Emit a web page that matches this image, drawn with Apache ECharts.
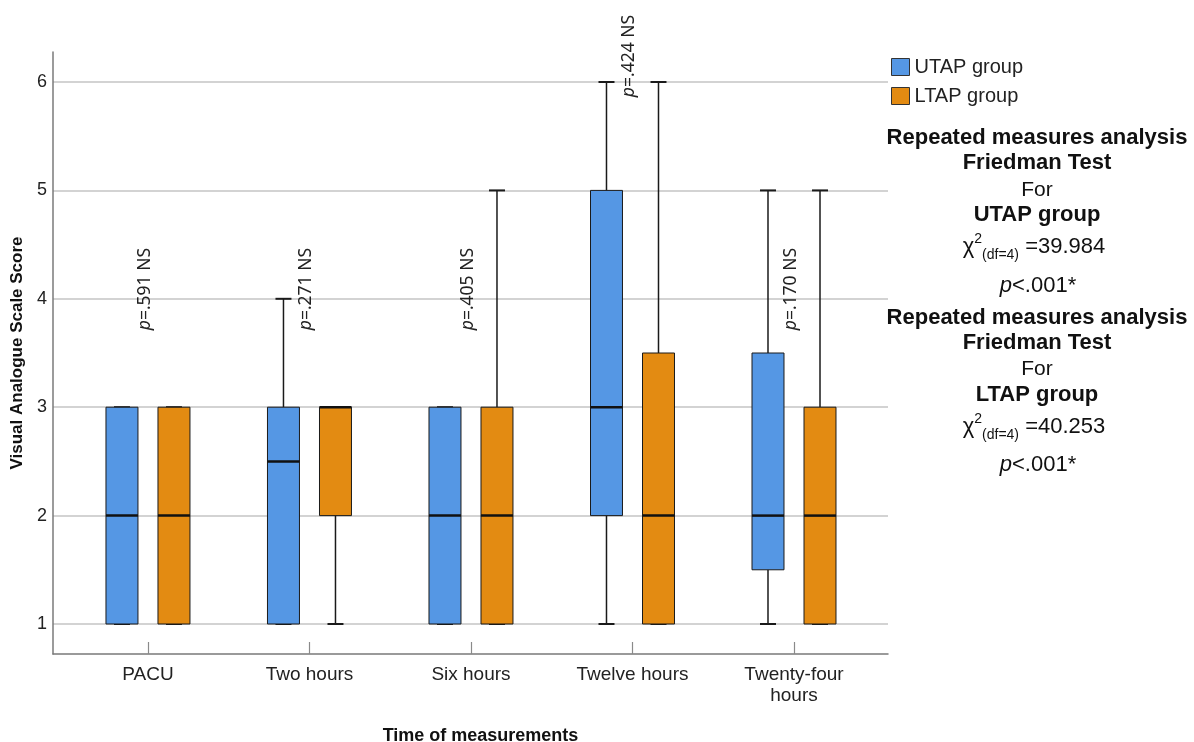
<!DOCTYPE html>
<html>
<head>
<meta charset="utf-8">
<script src="https://cdn.jsdelivr.net/npm/echarts@6/dist/echarts.min.js"></script>
<style>html,body{margin:0;padding:0;background:#fff;}#c{width:1194px;height:742px;}</style>
</head>
<body>
<div id="c"></div>
<script>
// ---- data ----
const categories = ['PACU', 'Two hours', 'Six hours', 'Twelve hours', 'Twenty-four\nhours'];
const groups = ['UTAP group', 'LTAP group'];
// [min, Q1, median, Q3, max]
const utap = [[1, 1, 2, 3, 3], [1, 1, 2.5, 3, 4], [1, 1, 2, 3, 3], [1, 2, 3, 5, 6], [1, 1.5, 2, 3.5, 5]];
const ltap = [[1, 1, 2, 3, 3], [1, 2, 3, 3, 3], [1, 1, 2, 3, 5], [1, 1, 2, 3.5, 6], [1, 1, 2, 3, 5]];
const yTicks = [1, 2, 3, 4, 5, 6];
const pLabels = ['=.591 NS', '=.271 NS', '=.405 NS', '=.424 NS', '=.170 NS'];
const pLabelY = [3.71, 3.71, 3.71, 5.86, 3.71];
const notes = [
  ['Repeated measures analysis', 'b', 138],
  ['Friedman Test', 'b', 163],
  ['For', 'n', 190],
  ['UTAP group', 'b', 215],
  ['39.984', 'c', 247],
  ['<.001*', 'p', 286],
  ['Repeated measures analysis', 'b', 318],
  ['Friedman Test', 'b', 343],
  ['For', 'n', 369],
  ['LTAP group', 'b', 395],
  ['40.253', 'c', 427],
  ['<.001*', 'p', 465]
];

const colors = ['#5597E4', '#E38B12'];
const offsets = [-0.161, 0.161];
const boxW = 0.198;
const FONT = 'Liberation Sans, Arial, sans-serif';

function makeBoxRender(offset) {
  return function (params, api) {
    const i = api.value(0);
    const xc = i + offset;
    const mn = api.coord([xc, api.value(1)]);
    const q1 = api.coord([xc, api.value(2)]);
    const md = api.coord([xc, api.value(3)]);
    const q3 = api.coord([xc, api.value(4)]);
    const mx = api.coord([xc, api.value(5)]);
    const hw = api.size([boxW, 0])[0] / 2;
    const cw = hw / 2;
    const cx = mn[0];
    const lineStyle = { stroke: '#1a1a1a', lineWidth: 1.5 };
    const children = [];
    children.push({ type: 'line', shape: { x1: cx, y1: q3[1], x2: cx, y2: mx[1] }, style: lineStyle });
    children.push({ type: 'line', shape: { x1: cx, y1: q1[1], x2: cx, y2: mn[1] }, style: lineStyle });
    children.push({ type: 'line', shape: { x1: cx - cw, y1: mx[1], x2: cx + cw, y2: mx[1] }, style: { stroke: '#1a1a1a', lineWidth: 2 } });
    children.push({ type: 'line', shape: { x1: cx - cw, y1: mn[1], x2: cx + cw, y2: mn[1] }, style: { stroke: '#1a1a1a', lineWidth: 2 } });
    children.push({
      type: 'rect',
      shape: { x: cx - hw, y: q3[1], width: hw * 2, height: q1[1] - q3[1] },
      style: { fill: api.visual('color'), stroke: '#1a1a1a', lineWidth: 1 }
    });
    children.push({ type: 'line', shape: { x1: cx - hw, y1: md[1], x2: cx + hw, y2: md[1] }, style: { stroke: '#111', lineWidth: 2.5 } });
    return { type: 'group', children: children };
  };
}

function toSeriesData(arr) {
  return arr.map((d, i) => [i].concat(d));
}

const chart = echarts.init(document.getElementById('c'), null, { renderer: 'canvas' });

const noteGraphics = notes.map(function (n) {
  const base = { fontFamily: FONT, fontSize: 21, fill: '#111', align: 'center', verticalAlign: 'middle' };
  if (n[1] === 'b') {
    return { type: 'text', x: 1037, y: n[2], style: Object.assign({}, base, { text: n[0], fontWeight: 'bold', fontSize: 22 }) };
  } else if (n[1] === 'n') {
    return { type: 'text', x: 1037, y: n[2], style: Object.assign({}, base, { text: n[0] }) };
  } else if (n[1] === 'c') {
    return {
      type: 'text', x: 1034, y: n[2],
      style: Object.assign({}, base, {
        text: '{m|χ}{sup|2}{sub|(df=4)}{m| =' + n[0] + '}',
        rich: {
          m: { fontFamily: FONT, fontSize: 22, lineHeight: 30, verticalAlign: 'middle', fill: '#111' },
          sup: { fontFamily: FONT, fontSize: 14, lineHeight: 15, verticalAlign: 'top', fill: '#111' },
          sub: { fontFamily: FONT, fontSize: 14, lineHeight: 14, verticalAlign: 'bottom', fill: '#111' }
        }
      })
    };
  } else {
    return {
      type: 'text', x: 1038, y: n[2],
      style: Object.assign({}, base, {
        text: '{i|p}{m|' + n[0] + '}',
        rich: {
          i: { fontFamily: FONT, fontSize: 22, fontStyle: 'italic', fill: '#111' },
          m: { fontFamily: FONT, fontSize: 22, fill: '#111' }
        }
      })
    };
  }
});

const option = {
  backgroundColor: '#fff',
  animation: false,
  grid: { left: 53, right: 306, top: 52, bottom: 88, containLabel: false, outerBoundsMode: 'none' },
  legend: {
    data: groups,
    orient: 'vertical',
    left: 891, top: 57,
    padding: 0,
    icon: 'rect',
    itemWidth: 18, itemHeight: 17, itemGap: 9,
    itemStyle: { borderColor: '#333', borderWidth: 1 },
    textStyle: { fontFamily: FONT, fontSize: 20, color: '#222' }
  },
  xAxis: {
    type: 'value',
    min: -0.588, max: 4.582,
    splitLine: { show: false },
    axisLine: { show: true, onZero: false, lineStyle: { color: '#7a7a7a', width: 1.5 } },
    axisTick: { show: true, inside: true, length: 12, customValues: [0, 1, 2, 3, 4], lineStyle: { color: '#8a8a8a', width: 1.2 } },
    axisLabel: {
      customValues: [0, 1, 2, 3, 4],
      formatter: function (v) { return categories[Math.round(v)]; },
      fontFamily: FONT, fontSize: 19, color: '#222', margin: 10, lineHeight: 21
    },
    name: 'Time of measurements',
    nameLocation: 'middle', nameGap: 73,
    nameTextStyle: { fontFamily: FONT, fontSize: 18, fontWeight: 'bold', color: '#111', padding: [0, 0, 0, 20] }
  },
  yAxis: {
    type: 'value',
    min: 0.7232, max: 6.2768,
    axisLine: { show: true, onZero: false, lineStyle: { color: '#7a7a7a', width: 1.5 } },
    axisTick: { show: false, customValues: yTicks },
    axisLabel: { customValues: yTicks, fontFamily: FONT, fontSize: 18, color: '#222', margin: 6 },
    splitLine: { show: true, lineStyle: { color: '#c4c4c4', width: 1.5 } },
    name: 'Visual Analogue Scale Score',
    nameLocation: 'middle', nameGap: 27,
    nameTextStyle: { fontFamily: FONT, fontSize: 17, fontWeight: 'bold', color: '#111' }
  },
  series: [
    {
      name: groups[0], type: 'custom', itemStyle: { color: colors[0] },
      renderItem: makeBoxRender(offsets[0]),
      encode: { x: 0, y: [1, 2, 3, 4, 5] },
      data: toSeriesData(utap), z: 3
    },
    {
      name: groups[1], type: 'custom', itemStyle: { color: colors[1] },
      renderItem: makeBoxRender(offsets[1]),
      encode: { x: 0, y: [1, 2, 3, 4, 5] },
      data: toSeriesData(ltap), z: 3
    },
    {
      name: 'pvalues', type: 'custom',
      data: pLabelY.map((y, i) => [i, y]),
      encode: { x: 0, y: 1 },
      renderItem: function (params, api) {
        const p = api.coord([api.value(0), api.value(1)]);
        return {
          type: 'text', x: p[0] - 3, y: p[1], rotation: Math.PI / 2,
          style: {
            text: '{i|p}{n|' + pLabels[params.dataIndex] + '}',
            align: 'left', verticalAlign: 'middle',
            rich: {
              i: { fontFamily: 'Noto Sans', fontSize: 17.5, fontStyle: 'italic', fill: '#222' },
              n: { fontFamily: 'Noto Sans', fontSize: 17.5, fill: '#222' }
            }
          }
        };
      },
      z: 4
    }
  ],
  graphic: noteGraphics
};
chart.setOption(option);
</script>
</body>
</html>
